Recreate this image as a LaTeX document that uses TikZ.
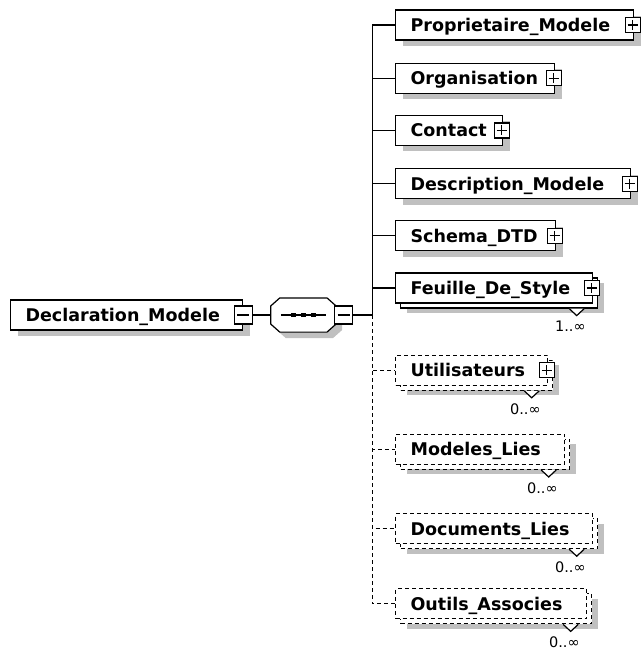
\documentclass[tikz,border=0pt]{standalone}
\usepackage{fontspec}
\setmainfont{DejaVu Sans}
\usepackage{tikz}
\usetikzlibrary{positioning,shadows}
\hyphenpenalty=10000
\definecolor{shadegray}{RGB}{192, 192, 192}
\tikzset{elt/.style={draw, fill=white, anchor=west, align=left, text width=#1pt, inner xsep=15pt, minimum height=30pt, text height=12.8pt, text depth=0pt, font=\fontsize{17.5}{20}\selectfont\bfseries}}
\tikzstyle{shade} = [drop shadow={shadow xshift=7pt, shadow yshift=-6pt, fill=shadegray, opacity=1}]
\tikzstyle{stack} = [drop shadow={shadow xshift=11pt, shadow yshift=-10pt, fill=shadegray, opacity=1}, copy shadow={shadow xshift=5pt, shadow yshift=-5pt}]
\tikzstyle{opt} = [dash pattern=on 4pt off 3pt]
\tikzstyle{seq} = [minimum width=64pt, minimum height=33pt, inner sep=0pt]
\tikzstyle{octo} = [draw, fill=white, drop shadow={shadow xshift=6pt, shadow yshift=-6pt, fill=shadegray, opacity=1}]
\tikzstyle{plus} = [draw, fill=white, minimum size=15pt, inner sep=0pt, path picture={\draw ([xshift=2.5pt]path picture bounding box.west) -- ([xshift=-2.5pt]path picture bounding box.east) ([yshift=-2.5pt]path picture bounding box.north) -- ([yshift=2.5pt]path picture bounding box.south);}]
\tikzstyle{minus} = [draw, fill=white, minimum size=18pt, inner sep=0pt, path picture={\draw ([xshift=3pt]path picture bounding box.west) -- ([xshift=-3pt]path picture bounding box.east);}]
\tikzstyle{mult} = [inner sep=0pt, anchor=north east, font=\fontsize{14.5}{16}\selectfont]
\tikzstyle{notch} = [fill=white]

\begin{document}
\begin{tikzpicture}[x=1pt, y=1pt, line width=1.2pt]
\useasboundingbox (0,0) rectangle (641,-651);

% root and sequence =============================

% nodes
\node[elt=202, shade] (decl) at (10,-315) {Declaration\_Modele};
\node[minus] (declminus) at (decl.east) {};
\node[seq, right=18pt of declminus] (seq) {};
\draw[octo] ([xshift=9pt]seq.north west) -- ([xshift=-9pt]seq.north east)
  -- ([yshift=-8pt]seq.north east) -- ([yshift=8pt]seq.south east)
  -- ([xshift=-9pt]seq.south east) -- ([xshift=9pt]seq.south west)
  -- ([yshift=8pt]seq.south west) -- ([yshift=-8pt]seq.north west) -- cycle;
\node[minus, right=-2pt of seq] (seqminus) {};
\coordinate[right=19pt of seqminus] (trunk);

% sequence mark
\draw ([xshift=10pt]seq.west) -- ([xshift=-10pt]seq.east);
\foreach \dx in {-10,0,10}
  \fill ([xshift=\dx pt]seq.center) ++(-2.5,-2) rectangle ++(5,4);

% children ======================================

% nodes
\node[elt=208, shade] (prop) at (395,-25) {Proprietaire\_Modele};
\node[elt=129, shade, below=22pt of prop.south west, anchor=north west] (org) {Organisation};
\node[elt=77, shade, below=21pt of org.south west, anchor=north west] (contact) {Contact};
\node[elt=205, shade, below=22pt of contact.south west, anchor=north west] (desc) {Description\_Modele};
\node[elt=130, shade, below=21pt of desc.south west, anchor=north west] (schema) {Schema\_DTD};
\node[elt=167, stack, below=21pt of schema.south west, anchor=north west] (feuille) {Feuille\_De\_Style};
\node[elt=122, opt, stack, below=51pt of feuille.south west, anchor=north west] (util) {Utilisateurs};
\node[elt=139, opt, stack, below=48pt of util.south west, anchor=north west] (modeles) {Modeles\_Lies};
\node[elt=167, opt, stack, below=48pt of modeles.south west, anchor=north west] (docs) {Documents\_Lies};
\node[elt=161, opt, stack, below=44pt of docs.south west, anchor=north west] (outils) {Outils\_Associes};

% expand boxes
\foreach \n in {prop,org,contact,desc,schema,feuille,util}
  \node[plus] (\n plus) at ([xshift=-1.5pt]\n.east) {};

% occurrences
\foreach \n/\m in {feuille/1..∞, util/0..∞, modeles/0..∞, docs/0..∞, outils/0..∞} {
  \filldraw[notch] ([xshift=-24pt,yshift=-5pt]\n.south east) -- ++(7.5,-7) -- ++(7.5,7);
  \node[mult] (\n mult) at ([xshift=-7pt,yshift=-17pt]\n.south east) {\m};
}

% edges
\draw (declminus) -- (seq);
\draw (seqminus) -- (trunk);
\foreach \n in {prop,org,contact,desc,schema,feuille}
  \draw (trunk) |- (\n.west);
\foreach \n in {util,modeles,docs,outils}
  \draw[opt] (trunk) |- (\n.west);

\end{tikzpicture}
\end{document}
